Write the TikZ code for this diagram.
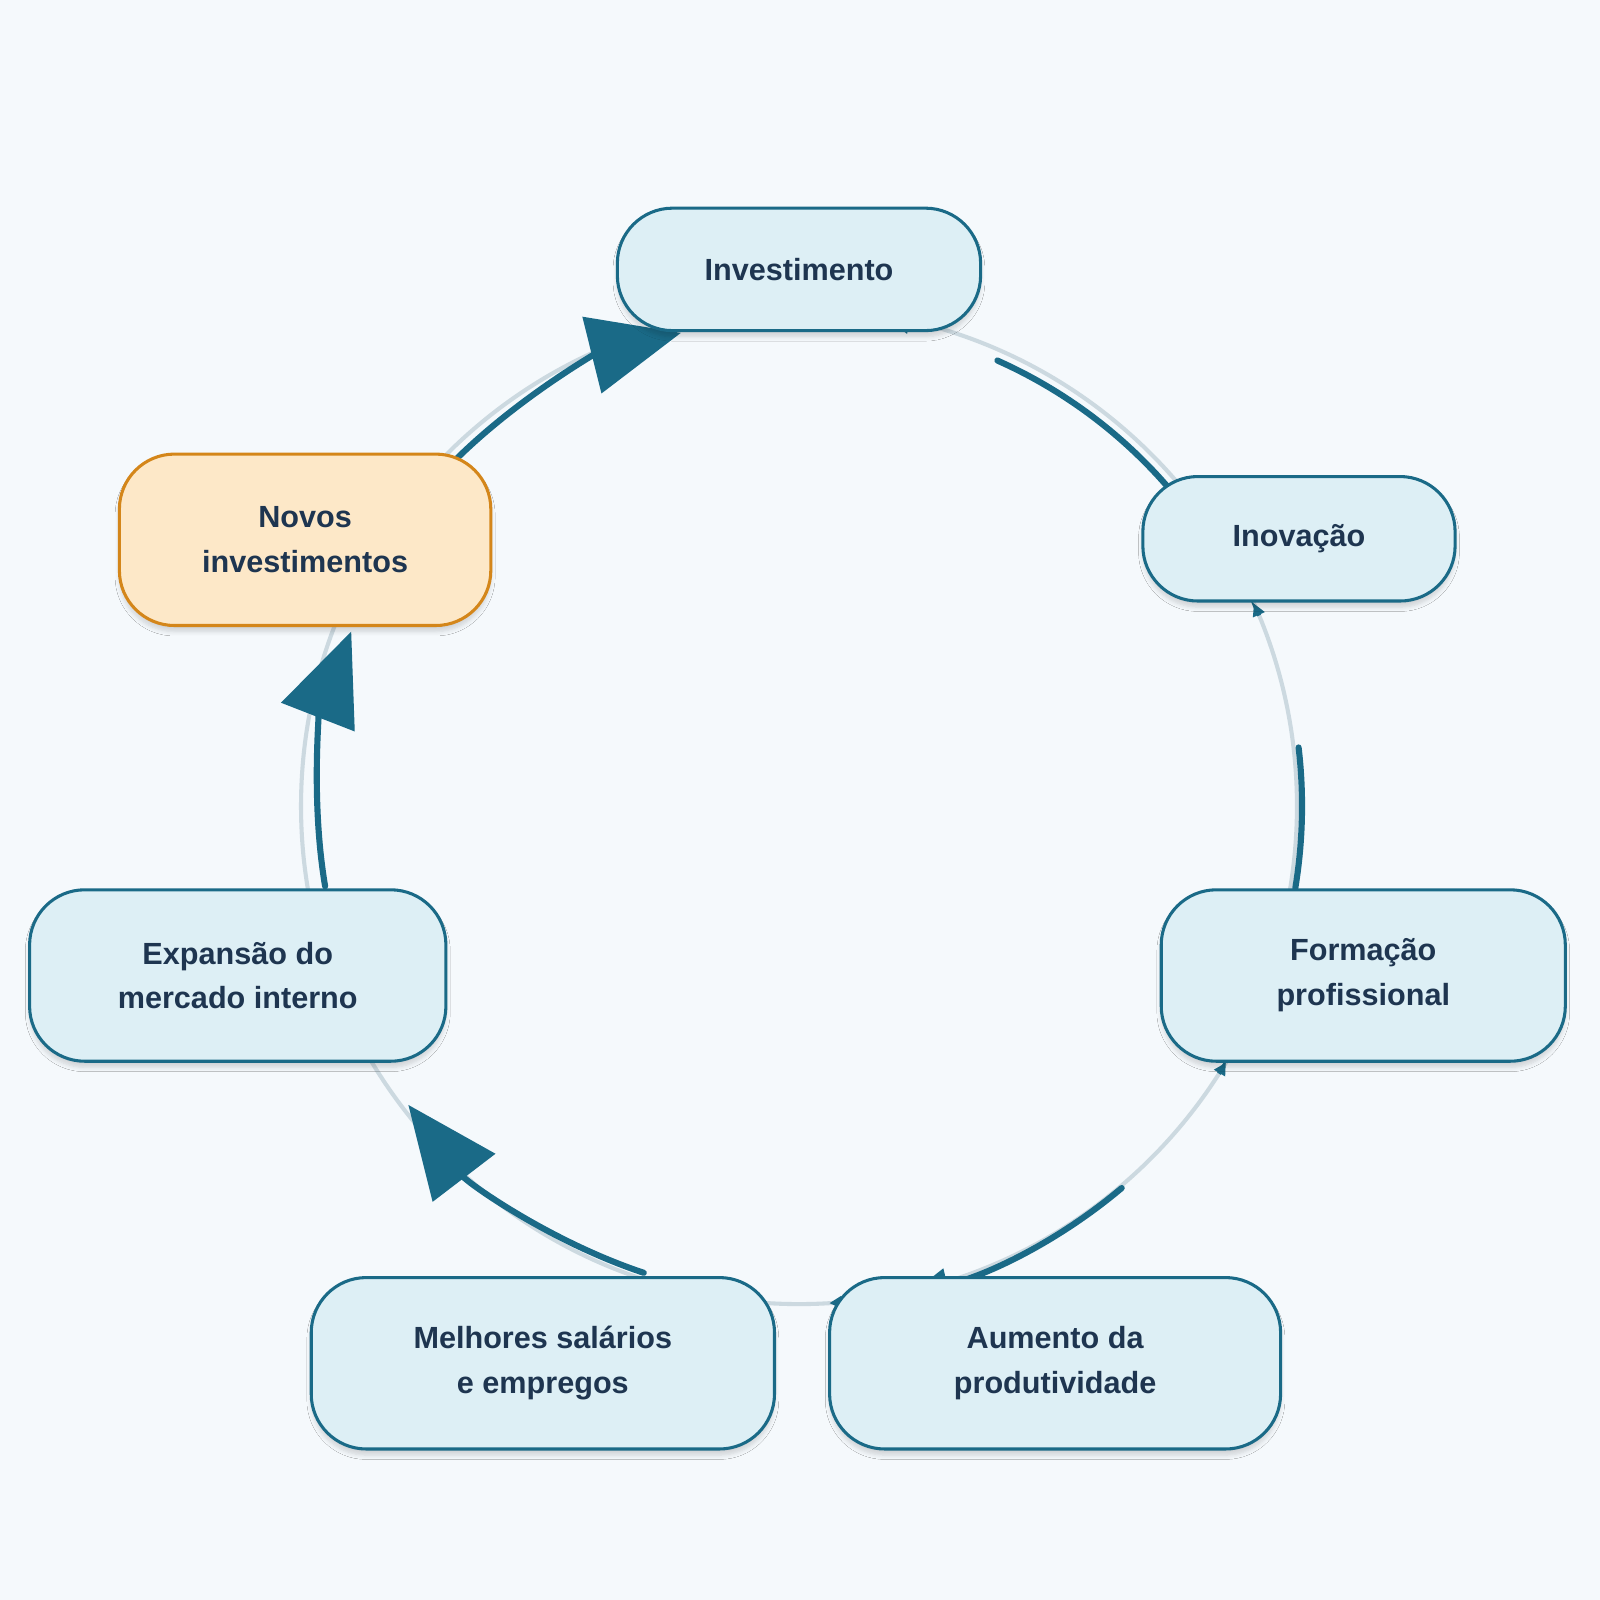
\documentclass[tikz,border=0pt]{standalone}
\usepackage{fontspec}
\setmainfont{Liberation Sans}
\usetikzlibrary{arrows.meta,shadows.blur}
\definecolor{bg}{HTML}{F5F9FC}
\definecolor{nfill}{HTML}{DDEFF5}
\definecolor{nline}{HTML}{1A6A87}
\definecolor{ofill}{HTML}{FDE8C8}
\definecolor{oline}{HTML}{D4861A}
\definecolor{txt}{HTML}{1E3550}
\definecolor{ring}{HTML}{CCD9E0}
\begin{document}
\begin{tikzpicture}[x=0.5pt,y=-0.5pt,
  box/.style={draw=nline,fill=nfill,line width=1.5pt,rounded corners=27pt,align=center,
    text=txt,font=\fontsize{15}{22}\selectfont\bfseries,
    blur shadow={shadow blur steps=6,shadow xshift=0pt,shadow yshift=-3pt,shadow opacity=15}},
  obox/.style={box,draw=oline,fill=ofill},
  dark/.style={draw=nline,line width=3pt,line cap=round},
  big/.style={dark,-{Triangle[length=45pt,width=38pt]}},
  small/.style={draw=nline,line width=2pt,-{Triangle[length=6pt,width=6pt]}}]
\fill[bg] (0,0) rectangle (1568,1568);
\useasboundingbox (0,0) rectangle (1568,1568);
\coordinate (C) at (783,790);
\draw[ring,line width=2pt] (C) circle[radius=488];
% arcs
\draw[big] ([shift={(-135:478)}]C) arc[start angle=-135,end angle=-104,radius=478];
\draw[dark] ([shift={(-66:478)}]C) arc[start angle=-66,end angle=-41,radius=478];
\draw[dark,-{Triangle[length=12pt,width=12pt]}] ([shift={(-76:487)}]C) arc[start angle=-76,end angle=-80,radius=487];
\draw[dark] ([shift={(-6.7:493)}]C) arc[start angle=-6.7,end angle=9.4,radius=493];
\draw[small] ([shift={(-22.5:488)}]C) arc[start angle=-22.5,end angle=-24,radius=488];
\draw[dark,-{Triangle[length=18pt,width=16pt]}] ([shift={(49.8:490)}]C) arc[start angle=49.8,end angle=77,radius=490];
\draw[small] ([shift={(32.5:488)}]C) arc[start angle=32.5,end angle=31,radius=488];
\draw[small] ([shift={(84.5:488)}]C) arc[start angle=84.5,end angle=86.5,radius=488];
\draw[big] ([shift={(108.4:482)}]C) arc[start angle=108.4,end angle=142.6,radius=482];
\draw[big] ([shift={(170.4:471)}]C) arc[start angle=170.4,end angle=201.3,radius=471];
% nodes
\node[box,minimum width=178pt,minimum height=60pt] (inv) at (783,264) {Investimento};
\node[box,minimum width=153pt,minimum height=61pt] (ino) at (1273,528) {Inovação};
\node[box,minimum width=198pt,minimum height=84pt] (for) at (1336,956) {Formação\\profissional};
\node[box,minimum width=221pt,minimum height=84pt] (aum) at (1034,1336) {Aumento da\\produtividade};
\node[box,minimum width=227pt,minimum height=84pt] (mel) at (532,1336) {Melhores salários\\e empregos};
\node[box,minimum width=204pt,minimum height=84pt] (exp) at (233,956) {Expansão do\\mercado interno};
\node[obox,minimum width=182pt,minimum height=84pt] (nov) at (299,529) {Novos\\investimentos};
\end{tikzpicture}
\end{document}
